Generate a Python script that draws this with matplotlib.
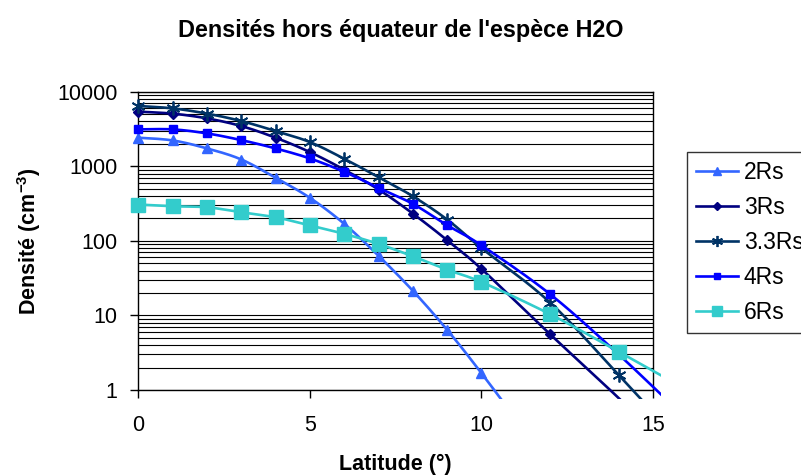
"""
Densités hors équateur de l'espèce H2O (log scale, Excel-style smoothed lines)
Output : out.png
"""

import numpy as np
import matplotlib
matplotlib.use('Agg')
import matplotlib.pyplot as plt
from matplotlib.patches import Rectangle
from matplotlib.ticker import LogLocator, FixedLocator, FixedFormatter

plt.rcParams['font.family'] = 'Liberation Sans'
plt.rcParams['mathtext.fontset'] = 'custom'
plt.rcParams['mathtext.rm'] = 'Liberation Sans'
plt.rcParams['mathtext.bf'] = 'Liberation Sans:bold'

# ── Data ──────────────────────────────────────────────────────
latitude = [0, 1, 2, 3, 4, 5, 6, 7, 8, 9, 10, 12, 14, 16]
dens_2rs  = [2415, 2222, 1735, 1233, 700, 377, 169, 63, 21.4, 6.4, 1.68, 0.1, 0.006, 0.0004]
dens_3rs  = [5400, 5080, 4390, 3460, 2415, 1548, 900, 488, 232, 102, 42, 5.6, 0.78, 0.1]
dens_33rs = [6430, 5980, 5080, 4040, 2965, 2110, 1260, 714, 396, 193, 80, 14.9, 1.59, 0.16]
dens_4rs  = [3125, 3125, 2760, 2243, 1735, 1273, 843, 514, 313, 162, 87, 19.3, 3.0, 0.4]
dens_6rs  = [307, 291, 282, 242, 207, 161, 124, 91, 62, 41, 28, 10.4, 3.27, 1.0]

labels = ['2Rs', '3Rs', '3.3Rs', '4Rs', '6Rs']
y_ticks = [1, 10, 100, 1000, 10000]
x_ticks = [0, 5, 10, 15]

# ── Styles ────────────────────────────────────────────────────
STYLES = [
    dict(color='#3366FF', marker='^', ms=7.5),
    dict(color='#000080', marker='D', ms=5.5),
    dict(color='#003366', marker=(6, 2, 0), ms=10, mew=1.3),
    dict(color='#0000FF', marker='s', ms=6),
    dict(color='#33CCCC', marker='s', ms=9.5),
]
PX_X = 34.3   # pixels per degree
PX_Y = 74.4   # pixels per decade


def smooth(xs, ys, n=24):
    """Excel-like smoothed curve (Catmull-Rom Bezier) in screen space."""
    pts = np.column_stack([np.asarray(xs, float) * PX_X,
                           np.log10(np.asarray(ys, float)) * PX_Y])
    P = np.vstack([pts[0], pts, pts[-1]])
    t = np.linspace(0, 1, n)[:, None]
    out = []
    for i in range(1, len(P) - 2):
        p0, p1, p2, p3 = P[i - 1], P[i], P[i + 1], P[i + 2]
        c1 = p1 + (p2 - p0) / 6
        c2 = p2 - (p3 - p1) / 6
        b = (1 - t) ** 3 * p1 + 3 * (1 - t) ** 2 * t * c1 + 3 * (1 - t) * t ** 2 * c2 + t ** 3 * p2
        out.append(b if i == 1 else b[1:])
    out = np.vstack(out)
    return out[:, 0] / PX_X, 10 ** (out[:, 1] / PX_Y)


# ── Plot ──────────────────────────────────────────────────────
fig = plt.figure(figsize=(8.01, 4.75), dpi=100)
ax = fig.add_axes([0.1729, 0.1789, 0.6423, 0.6280])
ax.set_yscale('log')
ax.set_xlim(0, 15)
ax.set_ylim(1, 10000)

clip = Rectangle((0, -0.03), 1.016, 1.06, transform=ax.transAxes)

handles = []
all_series = [dens_2rs, dens_3rs, dens_33rs, dens_4rs, dens_6rs]
for k, (label, dens, st) in enumerate(zip(labels, all_series, STYLES)):
    sx, sy = smooth(latitude, dens)
    line, = ax.plot(sx, sy, color=st['color'], lw=1.9, zorder=3 + k)
    line.set_clip_path(clip)
    # markers only where inside the visible range
    mx = [x for x, y in zip(latitude, dens) if x <= 15 and y >= 1]
    my = [y for x, y in zip(latitude, dens) if x <= 15 and y >= 1]
    ax.plot(mx, my, ls='none', marker=st['marker'], ms=st['ms'],
            color=st['color'], mec=st['color'], mew=st.get('mew', 1),
            clip_on=False, zorder=3 + k)
    h, = ax.plot([], [], color=st['color'], lw=1.9, marker=st['marker'],
                 ms=st['ms'] * 0.8, mew=st.get('mew', 1))
    handles.append(h)

# ── Formatting ────────────────────────────────────────────────
ax.yaxis.set_major_locator(FixedLocator(y_ticks))
ax.yaxis.set_major_formatter(FixedFormatter([str(v) for v in y_ticks]))
ax.yaxis.set_minor_locator(LogLocator(base=10, subs=range(2, 10)))
ax.set_xticks(x_ticks)
ax.set_xticklabels([str(v) for v in x_ticks])

ax.grid(True, which='both', axis='y', color='black', lw=0.8)
ax.grid(False, axis='x')
ax.tick_params(which='major', direction='out', length=6, width=1,
               labelsize=15.5, colors='black')
ax.tick_params(axis='y', which='major', pad=9)
ax.tick_params(axis='x', which='major', pad=12)
ax.tick_params(which='minor', length=0)
for s in ax.spines.values():
    s.set_color('black')
    s.set_linewidth(1)

ax.set_xlabel('Latitude (°)', fontsize=15.5, fontweight='bold', labelpad=13)
ax.set_ylabel(r'Densité (cm$^{\mathbf{-3}}$)', fontsize=15.5,
              fontweight='bold', labelpad=10)
fig.text(0.5, 1 - 30 / 475, "Densités hors équateur de l'espèce H2O",
         ha='center', va='center', fontsize=16.8, fontweight='bold')

leg = fig.legend(handles, labels, loc='upper left',
                 bbox_to_anchor=(686.7 / 801, 1 - 151.7 / 475),
                 borderaxespad=0,
                 fontsize=16.5, frameon=True, fancybox=False,
                 edgecolor='black', handlelength=1.85, handletextpad=0.25,
                 labelspacing=0.52, borderpad=0.4)
leg.get_frame().set_linewidth(1)

plt.savefig('out.png', dpi=100, facecolor='white')
print("Saved -> out.png")
